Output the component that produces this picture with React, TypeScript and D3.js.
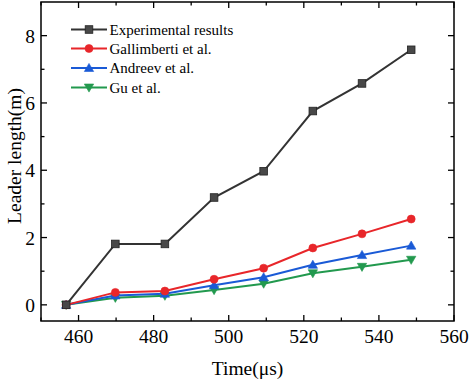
import React from "react";
import * as d3 from "d3";

const times = [456.7, 469.8, 483.0, 496.1, 509.3, 522.4, 535.5, 548.6];
const experimental = [0, 1.81, 1.81, 3.19, 3.97, 5.76, 6.58, 7.58];
const gallimberti = [0, 0.37, 0.41, 0.76, 1.09, 1.69, 2.11, 2.55];
const andreev = [0, 0.28, 0.33, 0.58, 0.82, 1.19, 1.48, 1.76];
const gu = [0, 0.21, 0.27, 0.44, 0.63, 0.94, 1.13, 1.34];
const seriesNames = ["Experimental results", "Gallimberti et al.", "Andreev et al.", "Gu et al."];
const xTicks = [460, 480, 500, 520, 540, 560];
const yTicks = [0, 2, 4, 6, 8];

const W = 472, H = 383;
const L = 41, R = 454, T = 2, B = 321;
const FONT = "Liberation Serif, Times New Roman, serif";

type S = { name: string; values: number[]; color: string; fill: string; marker: string };

export default function App() {
  const x = d3.scaleLinear().domain([450, 560]).range([L, R]);
  const y = d3.scaleLinear().domain([-0.48, 9]).range([B, T]);
  const series: S[] = [
    { name: seriesNames[0], values: experimental, color: "#333333", fill: "#484848", marker: "square" },
    { name: seriesNames[1], values: gallimberti, color: "#e8262a", fill: "#e8262a", marker: "circle" },
    { name: seriesNames[2], values: andreev, color: "#1a5ad6", fill: "#1a5ad6", marker: "tri" },
    { name: seriesNames[3], values: gu, color: "#22994e", fill: "#22994e", marker: "tridown" },
  ];
  const line = d3.line<number>().x((_, i) => x(times[i])).y((d) => y(d));

  const marker = (s: S, cx: number, cy: number, key: string) => {
    if (s.marker === "square")
      return <rect key={key} x={cx - 3.8} y={cy - 3.8} width={7.6} height={7.6} fill={s.fill} stroke="#222" strokeWidth={0.8} />;
    if (s.marker === "circle")
      return <circle key={key} cx={cx} cy={cy} r={4} fill={s.fill} stroke={s.color} strokeWidth={0.6} />;
    const sym = d3.symbol().type(d3.symbolTriangle).size(38)();
    return (
      <path key={key} d={sym || ""} transform={`translate(${cx},${cy + (s.marker === "tri" ? 0.8 : -0.8)}) rotate(${s.marker === "tri" ? 0 : 180})`} fill={s.fill} stroke={s.color} strokeWidth={0.6} />
    );
  };

  const xMinor = d3.range(450, 561, 10).filter((v) => !xTicks.includes(v));
  const yMinor = [1, 3, 5, 7];
  const ts = { fontFamily: FONT };

  const legendY = [29.5, 48.5, 68, 87.5];

  return (
    <svg width={W} height={H} style={{ position: "absolute", left: 0, top: 0, background: "#fff" }}>
      <rect x={0} y={0} width={W} height={H} fill="#fff" />
      {xTicks.map((v) => (
        <g key={"xt" + v}>
          <line x1={x(v)} x2={x(v)} y1={B} y2={B - 6} stroke="#000" strokeWidth={1.3} />
          <line x1={x(v)} x2={x(v)} y1={T} y2={T + 6} stroke="#000" strokeWidth={1.3} />
          <text x={x(v)} y={343} textAnchor="middle" fontSize={19.5} fill="#000" style={ts}>{v}</text>
        </g>
      ))}
      {xMinor.map((v) => (
        <g key={"xm" + v}>
          <line x1={x(v)} x2={x(v)} y1={B} y2={B - 3.5} stroke="#000" strokeWidth={1.3} />
          <line x1={x(v)} x2={x(v)} y1={T} y2={T + 3.5} stroke="#000" strokeWidth={1.3} />
        </g>
      ))}
      {yTicks.map((v) => (
        <g key={"yt" + v}>
          <line x1={L} x2={L + 6} y1={y(v)} y2={y(v)} stroke="#000" strokeWidth={1.3} />
          <line x1={R} x2={R - 6} y1={y(v)} y2={y(v)} stroke="#000" strokeWidth={1.3} />
          <text x={35} y={y(v) + 7} textAnchor="end" fontSize={19.5} fill="#000" style={ts}>{v}</text>
        </g>
      ))}
      {yMinor.map((v) => (
        <g key={"ym" + v}>
          <line x1={L} x2={L + 3.5} y1={y(v)} y2={y(v)} stroke="#000" strokeWidth={1.3} />
          <line x1={R} x2={R - 3.5} y1={y(v)} y2={y(v)} stroke="#000" strokeWidth={1.3} />
        </g>
      ))}
      {series.slice().reverse().map((s) => (
        <g key={s.name}>
          <path d={line(s.values) || ""} fill="none" stroke={s.color} strokeWidth={2} />
          {s.values.map((v, i) => marker(s, x(times[i]), y(v), s.name + i))}
        </g>
      ))}
      <rect x={L} y={T} width={R - L} height={B - T} fill="none" stroke="#000" strokeWidth={1.5} />
      {series.map((s, i) => (
        <g key={"lg" + i}>
          <line x1={71} x2={107} y1={legendY[i]} y2={legendY[i]} stroke={s.color} strokeWidth={2} />
          {marker(s, 89, legendY[i], "lm" + i)}
          <text x={109.5} y={legendY[i] + 5} fontSize={15} fill="#000" style={ts}>{s.name}</text>
        </g>
      ))}
      <text x={247.5} y={375} textAnchor="middle" fontSize={19.5} fill="#000" style={ts}>Time(μs)</text>
      <text transform={`translate(21,156) rotate(-90)`} textAnchor="middle" fontSize={19.5} fill="#000" style={ts}>Leader length(m)</text>
    </svg>
  );
}
